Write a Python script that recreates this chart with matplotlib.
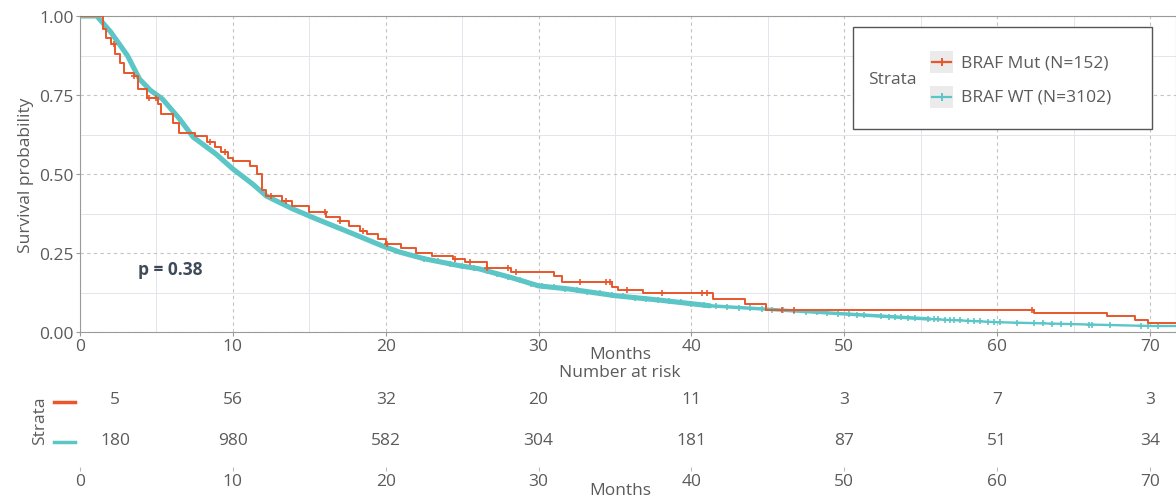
import numpy as np
import matplotlib
matplotlib.use("Agg")
import matplotlib.pyplot as plt
from matplotlib.lines import Line2D
from matplotlib.patches import Rectangle

plt.rcParams['font.family'] = ['Open Sans', 'DejaVu Sans']

# ---------------- data ----------------
# BRAF WT (N=3102) survival curve
wt_times = [0, 1.1, 2.0, 3.1, 3.9, 4.6, 5.4, 6.5, 7.4, 8.9, 10.0, 11.3, 12.2, 13.9,
            15.5, 17.6, 19.8, 20.9, 22.5, 24.8, 26.1, 28.3, 30.0, 32.0, 35.0, 37.9,
            41.2, 44.6, 50.1, 55.6, 60.0, 64.9, 70.0, 71.7]
wt_surv = [1.0, 1.0, 0.95, 0.875, 0.80, 0.765, 0.737, 0.675, 0.617, 0.563, 0.516,
           0.468, 0.43, 0.39, 0.357, 0.316, 0.272, 0.253, 0.232, 0.21, 0.20, 0.171,
           0.146, 0.136, 0.115, 0.101, 0.083, 0.073, 0.057, 0.041, 0.031, 0.025,
           0.019, 0.019]
wt_censor = [22.5, 23.4, 24.2, 25.0, 25.8, 26.6, 27.3, 28.0, 28.8, 29.5, 30.2, 31.0,
             31.7, 32.5, 33.2, 34.0, 34.8, 35.5, 36.3, 37.0, 37.8, 38.5, 39.3, 40.0,
             40.8, 41.6, 42.3, 43.1, 43.8, 44.6, 45.3, 46.0, 46.7, 47.5, 48.2, 48.9,
             49.6, 50.3, 50.8, 51.3, 52.4, 52.9, 53.3, 53.7, 54.2, 54.6, 55.5, 55.9,
             56.1, 56.6, 56.9, 57.2, 57.6, 58.1, 58.5, 58.9, 59.4, 59.8, 60.2, 61.3,
             62.4, 63.0, 63.6, 64.2, 64.8, 66.0, 66.2, 67.4, 69.4, 69.9, 70.5]

# BRAF Mut (N=152) Kaplan-Meier steps (time of drop, survival after drop)
mut_times = [0, 1.5, 1.7, 2.0, 2.3, 2.6, 2.9, 3.5, 3.8, 4.4, 5.1, 5.3, 6.1, 6.5, 7.5,
             8.3, 8.8, 9.2, 9.7, 10.0, 11.1, 11.6, 11.9, 12.2, 13.2, 13.9, 15.0, 16.1,
             17.0, 17.6, 18.3, 18.8, 19.5, 20.0, 21.0, 22.0, 23.0, 24.4, 25.2, 26.6,
             28.2, 31.0, 31.5, 34.8, 35.2, 36.8, 41.4, 43.5, 44.9, 62.4, 67.2, 69.0,
             69.9, 71.7]
mut_surv = [1.0, 0.96, 0.93, 0.91, 0.88, 0.85, 0.82, 0.81, 0.77, 0.74, 0.72, 0.69,
            0.66, 0.63, 0.62, 0.60, 0.585, 0.57, 0.55, 0.54, 0.525, 0.50, 0.45, 0.43,
            0.415, 0.40, 0.38, 0.365, 0.35, 0.335, 0.32, 0.31, 0.295, 0.28, 0.265,
            0.25, 0.24, 0.23, 0.22, 0.203, 0.191, 0.177, 0.158, 0.142, 0.133, 0.123,
            0.104, 0.089, 0.071, 0.060, 0.050, 0.039, 0.028, 0.028]
mut_censor = [2.2, 3.5, 4.5, 5.0, 8.5, 9.5, 12.5, 13.5, 16.0, 17.0, 18.5, 20.1, 24.5,
              25.5, 26.6, 28.0, 28.5, 32.7, 34.4, 34.7, 35.8, 38.1, 40.7, 41.0, 45.9,
              46.7, 62.3]

strata_labels = ['BRAF Mut (N=152)', 'BRAF WT (N=3102)']
risk_times = [0, 10, 20, 30, 40, 50, 60, 70]
risk_mut = [5, 56, 32, 20, 11, 3, 7, 3]
risk_wt = [180, 980, 582, 304, 181, 87, 51, 34]
p_text = 'p = 0.38'

# ---------------- style ----------------
RED = '#E8572C'
TEAL = '#5CC6C7'
TXT = '#5b5b5b'
FS = 12.5
W, H = 1176, 502

def fx(px):
    return px / W

def fy(py):
    return 1 - py / H

fig = plt.figure(figsize=(W / 100, H / 100), dpi=100)
ax = fig.add_axes([fx(80), fy(333), 1 - fx(80), (333 - 17) / H])
ax.set_xlim(0, 71.7)
ax.set_ylim(0, 1)
ax.set_xticks(np.arange(0, 71, 10))
ax.set_xticks(np.arange(5, 72, 10), minor=True)
ax.set_yticks([0, 0.25, 0.5, 0.75, 1.0])
ax.set_yticklabels(['0.00', '0.25', '0.50', '0.75', '1.00'])
ax.set_yticks([0.125, 0.375, 0.625, 0.875], minor=True)
ax.grid(which='major', color='#c4c4c4', linestyle=(0, (3, 3)), lw=0.8)
ax.grid(which='minor', color='#e4e4ec', linestyle='-', lw=0.7)
ax.set_axisbelow(True)
for s in ax.spines.values():
    s.set_color('#9a9a9a')
    s.set_linewidth(0.8)
ax.tick_params(which='major', length=3, color='#9a9a9a', labelcolor=TXT,
               labelsize=FS, pad=1.5)
ax.tick_params(which='minor', length=0)

# WT curve (thick, thinning with fewer patients)
wt_t = np.array(wt_times)
wt_s = np.array(wt_surv)
for i0, i1, lw in [(0, 26, 3.7), (25, 29, 2.5), (28, len(wt_t), 1.7)]:
    ax.plot(wt_t[i0:i1 + 1], wt_s[i0:i1 + 1], color=TEAL, lw=lw,
            solid_capstyle='round', solid_joinstyle='round', zorder=3)
ax.plot(wt_censor, np.interp(wt_censor, wt_t, wt_s), linestyle='none', marker='+',
        color=TEAL, ms=5, mew=1.2, zorder=3)

# Mut curve
ax.step(mut_times, mut_surv, where='post', color=RED, lw=1.4, zorder=4)
mi = np.searchsorted(mut_times, mut_censor, side='right') - 1
ax.plot(mut_censor, np.array(mut_surv)[mi], linestyle='none', marker='+',
        color=RED, ms=5, mew=1.2, zorder=4)

ax.text(5.9, 0.2, p_text, ha='center', va='center', fontsize=FS,
        fontweight='bold', color='#3e4a5a')
ax.set_ylabel('Survival probability', color=TXT, fontsize=FS, labelpad=4)

fig.text(fx(620), fy(355), 'Months', ha='center', va='center', color=TXT, fontsize=FS)
fig.text(fx(620), fy(373), 'Number at risk', ha='center', va='center', color=TXT,
         fontsize=FS)

# legend
fig.add_artist(Rectangle((fx(853), fy(130)), fx(1152) - fx(853), (130 - 28) / H,
                         transform=fig.transFigure, facecolor='white',
                         edgecolor='#555555', lw=1.0, zorder=5))
fig.text(fx(868), fy(80), 'Strata', ha='left', va='center', color=TXT, fontsize=FS,
         zorder=6)
for lbl, col, py in [(strata_labels[0], RED, 63), (strata_labels[1], TEAL, 98)]:
    fig.add_artist(Rectangle((fx(930), fy(py + 11)), fx(23), 22 / H,
                             transform=fig.transFigure, facecolor='#ebebeb',
                             edgecolor='none', zorder=6))
    fig.add_artist(Line2D([fx(932), fx(951)], [fy(py), fy(py)], color=col, lw=1.6,
                          transform=fig.transFigure, zorder=7))
    fig.add_artist(Line2D([fx(941.5)], [fy(py)], color=col, marker='+', ms=6, mew=1.4,
                          transform=fig.transFigure, zorder=7))
    fig.text(fx(961), fy(py), lbl, ha='left', va='center', color=TXT, fontsize=FS,
             zorder=7)

# risk table
rt = fig.add_axes([fx(80), fy(468), 1 - fx(80), 88 / H])
rt.set_xlim(0, 71.7)
rt.set_ylim(0, 1)
for s in rt.spines.values():
    s.set_visible(False)
rt.set_yticks([])
rt.set_xticks(risk_times)
rt.tick_params(axis='x', length=3, color='#bbbbbb', labelcolor=TXT, labelsize=FS, pad=1)
xpos = [max(t, 2.3) for t in risk_times]
for x, a, b in zip(xpos, risk_mut, risk_wt):
    rt.text(x, 0.773, str(a), ha='center', va='center', color=TXT, fontsize=FS)
    rt.text(x, 0.307, str(b), ha='center', va='center', color=TXT, fontsize=FS)
fig.text(fx(620), fy(491), 'Months', ha='center', va='center', color=TXT, fontsize=FS)
fig.text(fx(40), fy(421), 'Strata', rotation=90, ha='center', va='center', color=TXT,
         fontsize=FS)
fig.add_artist(Line2D([fx(54), fx(75)], [fy(403), fy(403)], color=RED, lw=2.5,
                      transform=fig.transFigure))
fig.add_artist(Line2D([fx(54), fx(75)], [fy(443), fy(443)], color=TEAL, lw=2.5,
                      transform=fig.transFigure))

fig.savefig('out.png', dpi=100, facecolor='white')
